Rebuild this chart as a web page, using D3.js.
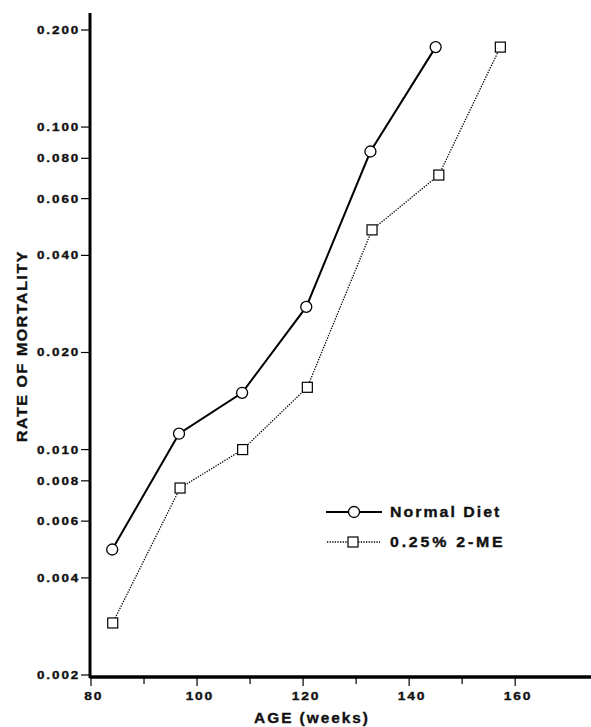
<!DOCTYPE html>
<html>
<head>
<meta charset="utf-8">
<script src="https://cdn.jsdelivr.net/npm/d3@7"></script>
<style>
  html, body { margin: 0; padding: 0; background: #fff; }
  svg { display: block; }
  text { font-family: "Liberation Sans", Arial, Helvetica, sans-serif; font-weight: bold; fill: #111; stroke: #111; stroke-width: 0.35; }
</style>
</head>
<body>
<svg id="chart" width="591" height="727"></svg>
<script>
// Age (weeks) at each observation and mortality rate per group
const normalAge  = [84, 96.6, 108.5, 120.6, 132.7, 145];
const normalRate = [0.0049, 0.0112, 0.0150, 0.0277, 0.084, 0.177];
const meAge      = [84.1, 96.8, 108.6, 120.8, 133, 145.6, 157.2];
const meRate     = [0.0029, 0.0076, 0.0100, 0.0156, 0.048, 0.071, 0.177];

const seriesNames = ["Normal Diet", "0.25% 2-ME"];

const xMajorTicks = [80, 100, 120, 140, 160];
const xMinorTicks = [90, 110, 130, 150];
const yTicks = [0.002, 0.004, 0.006, 0.008, 0.010, 0.020, 0.040, 0.060, 0.080, 0.100, 0.200];

const xTitle = "AGE (weeks)";
const yTitle = "RATE OF MORTALITY";

const svg = d3.select("#chart");
const W = 591, H = 727;

svg.append("rect").attr("width", W).attr("height", H).attr("fill", "#fff");

// wide, spaced lettering: slightly stretched bold sans with tracking
function wideText(sel, opts) {
  return sel
    .attr("transform", opts.transform)
    .attr("text-anchor", opts.anchor || "start")
    .attr("font-size", opts.size)
    .attr("letter-spacing", opts.ls || 0);
}

const x = d3.scaleLinear().domain([80, 174.3]).range([91, 591]);
const y = d3.scaleLog().domain([0.002, 0.2258]).range([675, 13]);

// x axis
const xAxisG = svg.append("g").attr("transform", "translate(0,677)");
xAxisG.append("line")
  .attr("x1", x(80) - 1.5).attr("x2", W)
  .attr("y1", 0).attr("y2", 0)
  .attr("stroke", "#000").attr("stroke-width", 3.5);
xAxisG.selectAll(".major").data(xMajorTicks).join("line")
  .attr("x1", d => x(d)).attr("x2", d => x(d))
  .attr("y1", 1).attr("y2", 9)
  .attr("stroke", "#000").attr("stroke-width", 1.2);
xAxisG.selectAll(".minor").data(xMinorTicks).join("line")
  .attr("x1", d => x(d)).attr("x2", d => x(d))
  .attr("y1", 1).attr("y2", 7)
  .attr("stroke", "#000").attr("stroke-width", 1.2);
xAxisG.selectAll(".xlab").data(xMajorTicks).join("text")
  .call(wideText, {
    transform: d => `translate(${x(d) + 2.8},23) scale(1.2,1)`,
    anchor: "middle", size: 11.5, ls: 1.5
  })
  .text(d => d);

// y axis
const yAxisG = svg.append("g").attr("transform", "translate(90,0)");
yAxisG.append("line")
  .attr("x1", 0).attr("x2", 0)
  .attr("y1", 13).attr("y2", 678)
  .attr("stroke", "#000").attr("stroke-width", 3);
yAxisG.selectAll(".ytick").data(yTicks).join("line")
  .attr("x1", -9).attr("x2", 0)
  .attr("y1", d => y(d)).attr("y2", d => y(d))
  .attr("stroke", "#000").attr("stroke-width", 1.2);
yAxisG.selectAll(".ylab").data(yTicks).join("text")
  .call(wideText, {
    transform: d => `translate(-9.8,${y(d) + 4}) scale(1.3,1)`,
    anchor: "end", size: 10.3, ls: 1.5
  })
  .text(d => d3.format(".3f")(d));

// axis titles
svg.append("text")
  .call(wideText, { transform: "translate(312,723) scale(1.1,1)", anchor: "middle", size: 14, ls: 1.8 })
  .text(xTitle);
svg.append("text")
  .call(wideText, { transform: "translate(26.5,346) rotate(-90) scale(1.1,1)", anchor: "middle", size: 14.5, ls: 1.45 })
  .text(yTitle);

// series
const line = d3.line().x(d => x(d[0])).y(d => y(d[1]));
const normalPts = normalAge.map((a, i) => [a, normalRate[i]]);
const mePts = meAge.map((a, i) => [a, meRate[i]]);

svg.append("path").datum(mePts)
  .attr("d", line).attr("fill", "none")
  .attr("stroke", "#000").attr("stroke-width", 1.3)
  .attr("stroke-dasharray", "1.3 1.3");
svg.append("path").datum(normalPts)
  .attr("d", line).attr("fill", "none")
  .attr("stroke", "#000").attr("stroke-width", 2);

svg.selectAll(".sq").data(mePts).join("rect")
  .attr("x", d => x(d[0]) - 5).attr("y", d => y(d[1]) - 5)
  .attr("width", 10).attr("height", 10)
  .attr("fill", "#fff").attr("stroke", "#000").attr("stroke-width", 1.2);
svg.selectAll(".ci").data(normalPts).join("circle")
  .attr("cx", d => x(d[0])).attr("cy", d => y(d[1]))
  .attr("r", 5.5)
  .attr("fill", "#fff").attr("stroke", "#000").attr("stroke-width", 1.3);

// legend
const lg = svg.append("g");
lg.append("line").attr("x1", 326).attr("x2", 382).attr("y1", 512).attr("y2", 512)
  .attr("stroke", "#000").attr("stroke-width", 2);
lg.append("circle").attr("cx", 354).attr("cy", 512).attr("r", 5.5)
  .attr("fill", "#fff").attr("stroke", "#000").attr("stroke-width", 1.3);
lg.append("text")
  .call(wideText, { transform: "translate(390,517) scale(1.12,1)", size: 14.2, ls: 1.8 })
  .text(seriesNames[0]);

lg.append("line").attr("x1", 327).attr("x2", 380).attr("y1", 542).attr("y2", 542)
  .attr("stroke", "#000").attr("stroke-width", 1.3)
  .attr("stroke-dasharray", "1.3 1.3");
lg.append("rect").attr("x", 348).attr("y", 537).attr("width", 10).attr("height", 10)
  .attr("fill", "#fff").attr("stroke", "#000").attr("stroke-width", 1.2);
lg.append("text")
  .call(wideText, { transform: "translate(390,547) scale(1.12,1)", size: 14.2, ls: 2.5 })
  .text(seriesNames[1]);
</script>
</body>
</html>
